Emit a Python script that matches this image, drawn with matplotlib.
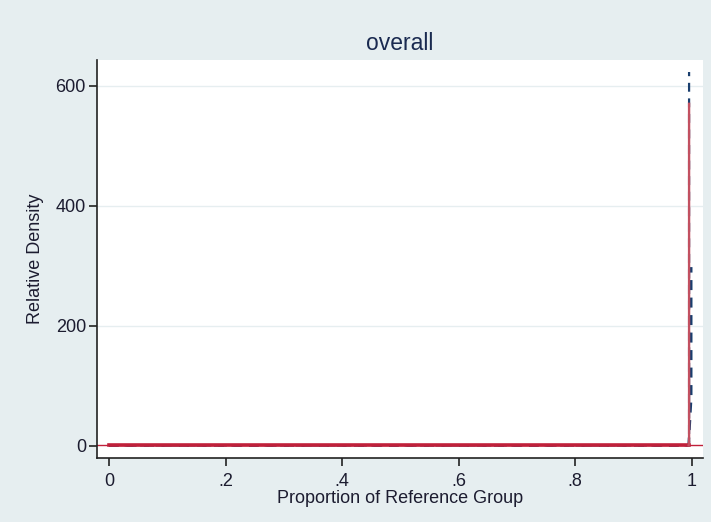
import matplotlib.pyplot as plt

# relative density estimate and confidence bounds
grid_x = [0.0, 0.9950, 0.9958, 0.9958]
rel_density = [1, 1, 6, 570]
upper_x = [0.0, 0.9950, 0.9958, 0.9958]
upper_ci = [1, 1, 5, 623]
lower_x = [0.0, 0.9950, 0.9995, 0.9995]
lower_ci = [1, 1, 80, 298]

xticks = [0, 0.2, 0.4, 0.6, 0.8, 1]
xtick_labels = ['0', '.2', '.4', '.6', '.8', '1']
yticks = [0, 200, 400, 600]

plt.rcParams['font.family'] = ['Liberation Sans', 'DejaVu Sans']

bg = '#e6eef0'
txt = '#1c1c30'
fig = plt.figure(figsize=(7.11, 5.22), dpi=100, facecolor=bg)
ax = fig.add_axes([97 / 711, 64 / 522, 606 / 711, 398 / 522])
ax.set_facecolor('white')

for t in yticks[1:]:
    ax.axhline(t, color='#e6eef0', lw=1.0, zorder=0)

# reference line at 1
ax.axhline(1, color='#c0203a', lw=1.0, zorder=1)

ax.plot(upper_x, upper_ci, color='#1a3e6e', lw=1.6, ls=(0, (4, 3)), zorder=2)
ax.plot(lower_x, lower_ci, color='#1a3e6e', lw=1.8, ls=(0, (4, 3)), zorder=2)
# flat part drawn thick, the spike thin
ax.plot(grid_x[:2], rel_density[:2], color='#c0203a', lw=2.6, zorder=3)
ax.plot(grid_x[1:], rel_density[1:], color='#c25060', lw=1.7, zorder=4)

ax.set_xlim(-0.0206, 1.0197)
ax.set_ylim(-20, 643)
ax.set_xticks(xticks)
ax.set_xticklabels(xtick_labels)
ax.set_yticks(yticks)

for s in ['top', 'right']:
    ax.spines[s].set_visible(False)
for s in ['left', 'bottom']:
    ax.spines[s].set_color('#222222')
    ax.spines[s].set_linewidth(1.2)
ax.tick_params(axis='both', length=6, width=1.2, color='#222222',
               labelsize=13, labelcolor=txt)
ax.tick_params(axis='x', pad=5)
ax.tick_params(axis='y', pad=2)

ax.set_title('overall', fontsize=16.5, color='#1a2a50', pad=7)
ax.set_xlabel('Proportion of Reference Group', fontsize=13, color=txt, labelpad=0)
ax.set_ylabel('Relative Density', fontsize=13, color=txt, labelpad=8)

fig.savefig('out.png', dpi=100, facecolor=bg)
